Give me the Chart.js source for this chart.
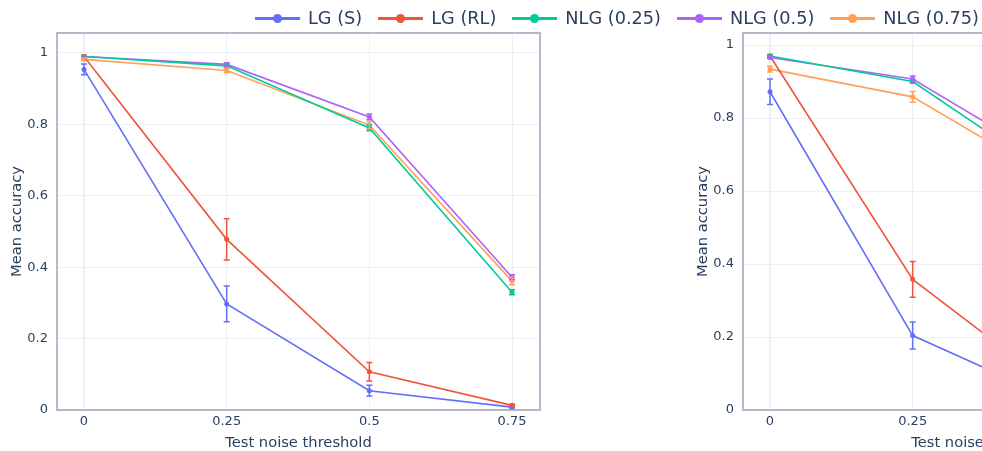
<!DOCTYPE html>
<html>
<head>
<meta charset="utf-8">
<script src="https://cdn.jsdelivr.net/npm/chart.js@4.4.1/dist/chart.umd.min.js"></script>
<style>
  html, body { margin: 0; padding: 0; background: #fff; }
  #wrap { position: relative; width: 982px; height: 451px; overflow: hidden; background: #fff; }
  #chartA { position: absolute; left: 0; top: 0; }
  #chartB { position: absolute; left: 686px; top: 0; }
  #legend { position: absolute; left: 255px; top: 6px; display: flex; align-items: center;
            font-family: "DejaVu Sans", sans-serif; font-size: 17.7px; color: #2a3f5f; white-space: nowrap; }
  .item { display: flex; align-items: center; margin-right: 16px; }
  .sym { position: relative; width: 45px; height: 24px; margin-right: 8px; }
  .sym .ln { position: absolute; left: 0; right: 0; top: 11px; height: 3px; }
  .sym .dot { position: absolute; left: 18px; top: 8px; width: 9px; height: 9px; border-radius: 50%; }
</style>
</head>
<body>
<div id="wrap">
  <canvas id="chartA" width="560" height="451"></canvas>
  <canvas id="chartB" width="560" height="451"></canvas>
  <div id="legend"></div>
</div>
<script>
// shared axes
const xValues = [0, 0.25, 0.5, 0.75];
const xTickLabels = ['0', '0.25', '0.5', '0.75'];
const yTicks = [0, 0.2, 0.4, 0.6, 0.8, 1];
const yTickLabels = ['0', '0.2', '0.4', '0.6', '0.8', '1'];

const seriesNames = ['LG (S)', 'LG (RL)', 'NLG (0.25)', 'NLG (0.5)', 'NLG (0.75)'];
const seriesColors = ['#636efa', '#ef553b', '#00cc96', '#ab63fa', '#ffa15a'];

// left panel
const leftLgS      = [0.954, 0.297, 0.054, 0.008];
const leftLgSErr   = [0.015, 0.05, 0.015, 0.003];
const leftLgRL     = [0.99, 0.478, 0.107, 0.013];
const leftLgRLErr  = [0.003, 0.058, 0.026, 0.003];
const leftNlg25    = [0.99, 0.964, 0.79, 0.33];
const leftNlg25Err = [0.003, 0.005, 0.008, 0.007];
const leftNlg50    = [0.99, 0.968, 0.821, 0.372];
const leftNlg50Err = [0.003, 0.005, 0.008, 0.007];
const leftNlg75    = [0.982, 0.951, 0.798, 0.361];
const leftNlg75Err = [0.004, 0.006, 0.01, 0.01];

// right panel (cut off at the page edge)
const rightLgS      = [0.872, 0.204, 0.028, 0.005];
const rightLgSErr   = [0.035, 0.037, 0.012, 0.003];
const rightLgRL     = [0.97, 0.358, 0.06, 0.01];
const rightLgRLErr  = [0.004, 0.049, 0.02, 0.004];
const rightNlg25    = [0.97, 0.9, 0.636, 0.25];
const rightNlg25Err = [0.003, 0.005, 0.01, 0.01];
const rightNlg50    = [0.966, 0.907, 0.674, 0.3];
const rightNlg50Err = [0.003, 0.008, 0.01, 0.01];
const rightNlg75    = [0.934, 0.858, 0.628, 0.27];
const rightNlg75Err = [0.008, 0.015, 0.01, 0.01];

const TEXT = '#2a3f5f';
const FONT = '"DejaVu Sans", sans-serif';

// legend
const leg = document.getElementById('legend');
seriesNames.forEach((n, i) => {
  const it = document.createElement('div'); it.className = 'item';
  it.innerHTML = `<div class="sym"><div class="ln" style="background:${seriesColors[i]}"></div><div class="dot" style="background:${seriesColors[i]}"></div></div><span>${n}</span>`;
  leg.appendChild(it);
});

const errorBars = {
  id: 'errorBars',
  afterDatasetsDraw(chart) {
    const { ctx, scales: { x, y } } = chart;
    ctx.save();
    chart.data.datasets.forEach(ds => {
      ctx.strokeStyle = ds.borderColor;
      ctx.lineWidth = 1.5;
      ds.data.forEach((p, i) => {
        const e = ds.errors[i];
        const px = x.getPixelForValue(p.x);
        const y1 = y.getPixelForValue(p.y + e), y2 = y.getPixelForValue(p.y - e);
        ctx.beginPath();
        ctx.moveTo(px, y1); ctx.lineTo(px, y2);
        ctx.moveTo(px - 3, y1); ctx.lineTo(px + 3, y1);
        ctx.moveTo(px - 3, y2); ctx.lineTo(px + 3, y2);
        ctx.stroke();
      });
    });
    ctx.restore();
  }
};

const frame = {
  id: 'frame',
  beforeDatasetsDraw(chart) {
    const { ctx, chartArea: a } = chart;
    ctx.save();
    ctx.strokeStyle = '#b2b9c8';
    ctx.lineWidth = 2;
    ctx.strokeRect(a.left, a.top, a.right - a.left, a.bottom - a.top);
    ctx.restore();
  }
};

function makeChart(id, yMax, vals, errs) {
  const datasets = vals.map((v, i) => ({
    label: seriesNames[i],
    data: v.map((y, j) => ({ x: xValues[j], y })),
    errors: errs[i],
    borderColor: seriesColors[i],
    backgroundColor: seriesColors[i],
    borderWidth: 1.6,
    pointRadius: 2.5,
    pointBorderWidth: 0,
    tension: 0
  }));
  return new Chart(document.getElementById(id), {
    type: 'line',
    data: { datasets },
    plugins: [frame, errorBars],
    options: {
      responsive: false, animation: false, devicePixelRatio: 1,
      layout: { padding: { top: 33, right: 20, left: 0, bottom: 0 } },
      plugins: { legend: { display: false }, tooltip: { enabled: false } },
      scales: {
        x: {
          type: 'linear', min: -0.0473, max: 0.799,
          afterBuildTicks: s => { s.ticks = xValues.map(v => ({ value: v })); },
          afterFit: s => { s.height = 41; },
          ticks: { callback: v => xTickLabels[xValues.indexOf(v)], color: TEXT, font: { family: FONT, size: 13 }, padding: 4, maxRotation: 0 },
          grid: { drawTicks: false, color: '#ebf0f8', lineWidth: c => (c.tick && c.tick.value === 0 ? 2 : 1) },
          border: { display: false },
          title: { display: true, text: 'Test noise threshold', color: TEXT, font: { family: FONT, size: 14.7 }, padding: { top: 0, bottom: -1 } }
        },
        y: {
          min: 0, max: yMax,
          afterBuildTicks: s => { s.ticks = yTicks.map(v => ({ value: v })); },
          afterFit: s => { s.width = 57; },
          ticks: { callback: v => yTickLabels[yTicks.indexOf(v)], color: TEXT, font: { family: FONT, size: 13 }, padding: 9 },
          grid: { drawTicks: false, color: '#ebf0f8' },
          border: { display: false },
          title: { display: true, text: 'Mean accuracy', color: TEXT, font: { family: FONT, size: 14.7 }, padding: { top: 8, bottom: 0 } }
        }
      }
    }
  });
}

makeChart('chartA', 1.056,
  [leftLgS, leftLgRL, leftNlg25, leftNlg50, leftNlg75],
  [leftLgSErr, leftLgRLErr, leftNlg25Err, leftNlg50Err, leftNlg75Err]);
makeChart('chartB', 1.033,
  [rightLgS, rightLgRL, rightNlg25, rightNlg50, rightNlg75],
  [rightLgSErr, rightLgRLErr, rightNlg25Err, rightNlg50Err, rightNlg75Err]);
</script>
</body>
</html>
